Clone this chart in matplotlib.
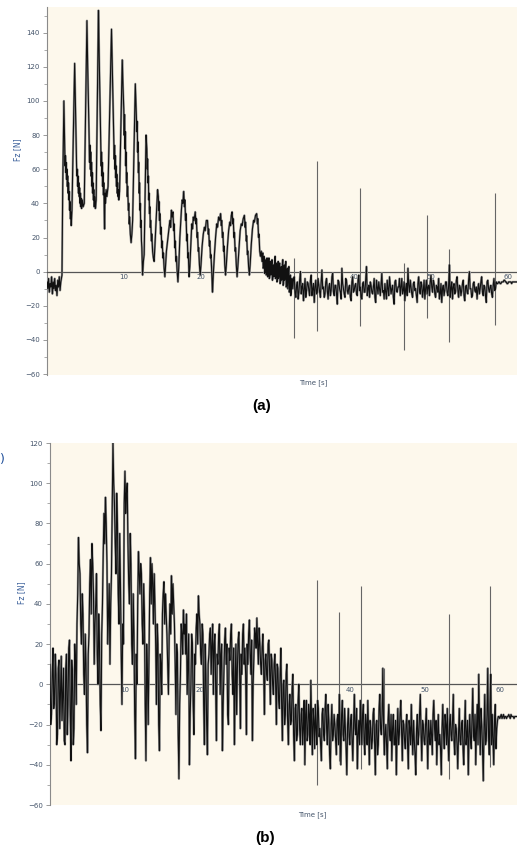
import numpy as np
import matplotlib
matplotlib.use('Agg')
from matplotlib import pyplot as plt
from matplotlib.ticker import MultipleLocator

# ---- panel (a): hand-read points of the Fz trace, (time [s], force [N])
a_trace = [
    # standing still before the first push
    (0.0, -6), (0.1, -10), (0.2, -4), (0.3, -12), (0.4, -7), (0.5, -9),
    (0.6, -3), (0.7, -13), (0.8, -6), (0.9, -10), (1.0, -4), (1.1, -11),
    (1.2, -8), (1.3, -14), (1.4, -5), (1.5, -9), (1.6, -3), (1.7, -11),
    (1.8, -6), (1.95, -2),
    # big pushes
    (2.05, 50), (2.2, 100), (2.3, 75), (2.35, 62), (2.4, 68), (2.45, 58),
    (2.5, 64), (2.55, 54), (2.6, 60), (2.65, 50), (2.7, 56), (2.75, 46),
    (2.8, 52), (2.85, 42), (2.9, 47), (2.95, 36), (3.0, 41), (3.05, 31),
    (3.1, 35), (3.15, 27), (3.25, 36),
    (3.6, 122), (3.7, 100), (3.8, 75), (3.85, 62), (3.9, 56), (3.95, 60),
    (4.0, 50), (4.05, 56), (4.1, 46), (4.15, 52), (4.2, 44), (4.25, 49),
    (4.3, 40), (4.35, 46), (4.4, 38), (4.45, 43), (4.5, 37), (4.6, 42),
    (4.7, 38), (4.85, 40),
    (5.2, 147), (5.3, 120), (5.45, 85), (5.5, 72), (5.55, 64), (5.6, 74),
    (5.65, 60), (5.7, 70), (5.75, 56), (5.8, 64), (5.85, 50), (5.9, 58),
    (5.95, 46), (6.0, 52), (6.05, 42), (6.1, 48), (6.15, 38), (6.2, 44),
    (6.3, 37), (6.4, 42),
    (6.7, 153), (6.8, 125), (6.95, 90), (7.0, 75), (7.05, 62), (7.1, 70),
    (7.15, 56), (7.2, 64), (7.25, 50), (7.3, 58), (7.35, 45), (7.4, 52),
    (7.45, 40), (7.5, 25), (7.55, 46), (7.6, 40), (7.7, 48), (7.8, 44),
    (7.95, 50),
    (8.4, 142), (8.5, 120), (8.65, 90), (8.7, 75), (8.75, 66), (8.8, 74),
    (8.85, 60), (8.9, 68), (8.95, 55), (9.0, 62), (9.05, 50), (9.1, 57),
    (9.15, 46), (9.2, 52), (9.25, 44), (9.3, 48), (9.35, 42), (9.45, 47),
    (9.8, 124), (9.9, 108), (10.0, 95), (10.05, 80), (10.1, 92), (10.15, 72),
    (10.2, 82), (10.25, 62), (10.3, 70), (10.35, 52), (10.4, 58), (10.45, 44),
    (10.5, 50), (10.6, 36), (10.65, 40), (10.7, 28), (10.75, 32), (10.85, 22),
    (10.95, 17), (11.05, 22), (11.15, 30),
    (11.5, 110), (11.6, 95), (11.7, 82), (11.75, 88), (11.8, 70), (11.85, 76),
    (11.9, 58), (11.95, 64), (12.0, 46), (12.05, 52), (12.1, 36), (12.15, 40),
    (12.2, 26), (12.25, 30), (12.3, 18), (12.35, 14), (12.45, -2), (12.55, 6),
    (12.65, 10),
    (12.9, 80), (13.0, 72), (13.05, 60), (13.1, 66), (13.15, 52), (13.2, 56),
    (13.25, 42), (13.3, 46), (13.35, 34), (13.4, 38), (13.45, 26), (13.5, 30),
    (13.6, 18), (13.65, 22), (13.75, 12), (13.85, 8), (13.95, 6), (14.05, 15),
    # smaller pushes
    (14.4, 48), (14.5, 44), (14.55, 36), (14.6, 41), (14.65, 30), (14.7, 34),
    (14.8, 22), (14.85, 26), (14.95, 14), (15.0, 18), (15.1, 8), (15.15, 11),
    (15.25, 2), (15.35, -3), (15.45, 4), (15.55, 12),
    (16.0, 30), (16.1, 26), (16.2, 36), (16.3, 32), (16.4, 35), (16.5, 24),
    (16.55, 28), (16.65, 14), (16.7, 18), (16.8, 6), (16.85, 9), (16.95, 0),
    (17.05, -6), (17.15, 2), (17.3, 20), (17.4, 28), (17.5, 36), (17.6, 42),
    (17.7, 40), (17.8, 47), (17.9, 38), (17.95, 42), (18.05, 30), (18.1, 34),
    (18.2, 18), (18.25, 22), (18.35, 8), (18.4, 11), (18.5, -3), (18.6, 3),
    (18.75, 18), (18.85, 28), (18.95, 25), (19.05, 32), (19.15, 30), (19.3, 35),
    (19.4, 28), (19.45, 31), (19.55, 20), (19.6, 23), (19.7, 12), (19.75, 14),
    (19.85, 4), (19.95, -2), (20.05, 4), (20.2, 15), (20.35, 22), (20.5, 26),
    (20.6, 24), (20.75, 30), (20.9, 30), (21.0, 22), (21.05, 25), (21.15, 15),
    (21.2, 18), (21.3, 8), (21.35, 10), (21.45, 0), (21.55, -12), (21.65, -2),
    (21.8, 10), (21.95, 20), (22.1, 28), (22.2, 26), (22.35, 32), (22.5, 30),
    (22.6, 34), (22.7, 27), (22.75, 30), (22.85, 20), (22.9, 23), (23.0, 12),
    (23.05, 15), (23.15, 4), (23.25, -2), (23.35, 4), (23.5, 15), (23.65, 24),
    (23.8, 29), (23.9, 27), (24.0, 33), (24.1, 35), (24.2, 28), (24.25, 31),
    (24.35, 20), (24.4, 23), (24.5, 12), (24.55, 14), (24.65, 4), (24.75, -3),
    (24.85, 3), (25.0, 14), (25.15, 24), (25.3, 28), (25.4, 27), (25.55, 31),
    (25.7, 33), (25.8, 26), (25.85, 29), (25.95, 18), (26.0, 21), (26.1, 10),
    (26.15, 12), (26.25, 3), (26.35, -2), (26.45, 4), (26.6, 16), (26.75, 25),
    (26.9, 30), (27.0, 29), (27.15, 33), (27.3, 34), (27.4, 28), (27.45, 31),
    (27.55, 20), (27.6, 22), (27.7, 12), (27.8, 9), (27.9, 12), (28.0, 6),
    # settling down
    (28.1, 11), (28.15, 2), (28.2, 3), (28.25, 9), (28.3, 8), (28.35, -1),
    (28.4, 1), (28.45, 6), (28.5, 7), (28.55, -2), (28.6, -1), (28.65, 8),
    (28.7, 6), (28.75, -3), (28.8, 0), (28.85, 5), (28.9, 8), (28.95, -4),
    (29.0, -3), (29.05, 6), (29.1, 5), (29.15, -2), (29.2, -1), (29.25, 4),
    (29.3, 7), (29.35, -5), (29.4, -4), (29.45, 3), (29.5, 4), (29.55, -3),
    (29.6, 0), (29.65, 6), (29.7, 9), (29.75, -4), (29.8, -3), (29.85, 5),
    (29.9, 4), (29.95, -6), (30.0, -5), (30.05, 3), (30.1, 6), (30.15, -4),
    (30.2, -2), (30.25, 4), (30.3, 5), (30.35, -7), (30.4, -6), (30.45, 2),
    (30.5, 3), (30.55, -5), (30.6, -4), (30.65, 4), (30.7, 7), (30.75, -8),
    (30.8, -7), (30.85, 1), (30.9, 4), (30.95, -5), (31.0, -2), (31.05, 3),
    (31.1, 6), (31.15, -9), (31.2, -8), (31.25, 0), (31.3, 2), (31.35, -10),
    (31.4, -5), (31.45, 1), (31.5, 3), (31.55, -12), (31.6, -10), (31.65, -3),
    (31.7, -2), (31.75, -14), (31.8, -12), (31.85, -5), (31.9, -4),
]

# ---- panel (a): noisy part, readings every 0.2 s from 32.0 s
a_noise_start = 32.0
a_noise_step = 0.2
a_noise = [-10, -3, -15, -6, -12, 0, -9, -17, -4, -11,
           -7, -14, -2, -10, -18, -5, -12, -8, -15, 1,
           -9, -13, -4, -16, -7, -11, -1, -14, -8, -19,
           -6, -12, 2, -10, -15, -5, -13, -8, -17, -3,
           -11, -7, -14, -2, -9, -16, -6, -12, 3, -10,
           -15, -8, -13, -4, -18, -9, -6, -14, -1, -11,
           -7, -16, -10, -3, -13, -8, -19, -5, -12, -9,
           -14, -4, -11, -17, -7, 2, -12, -9, -15, -6,
           -10, -18, -3, -13, -8, -11, -16, -5, -9, -14,
           -2, -12, -7, -15, -9, -4, -13, -18, -8, -11,
           -6, -14, 4, -10, -16, -7, -12, -3, -15, -9,
           -11, -5, -17, -8, -13, 0, -10, -14, -6, -12,
           -16, -7, -10, -3, -14, -9, -18, -5, -12, -8,
           -15, -4, -10, -7, -6, -7, -6, -6, -5, -6,
           -7, -6, -6, -6, -6, -6, -6, -6]
# in-between readings, every 0.2 s from 32.1 s
a_noise_mid = [-4, -12, -8, -16, -5, -13, -7, -10, -15, -6,
               -11, -5, -14, -7, -9, -13, -4, -12, -6, -10,
               -15, -6, -11, -9, -14, -3, -12, -8, -13, -5,
               -10, -16, -7, -13, -4, -11, -9, -15, -6, -12,
               -8, -13, -5, -11, -15, -7, -12, -4, -14, -8,
               -6, -12, -9, -15, -5, -13, -10, -7, -12, -16,
               -12, -5, -14, -8, -10, -15, -6, -11, -9, -4,
               -9, -13, -6, -10, -14, -8, -5, -13, -7, -11,
               -14, -7, -11, -6, -15, -5, -10, -13, -8, -6,
               -9, -5, -13, -8, -12, -16, -7, -10, -14, -6,
               -12, -8, -15, -6, -9, -13, -5, -11, -8, -14,
               -7, -14, -9, -12, -5, -10, -15, -7, -11, -9,
               -10, -13, -6, -12, -8, -14, -6, -10, -9, -13,
               -8, -11, -6, -7, -6, -7, -6, -5, -6, -7,
               -6, -6, -7, -6, -6, -6, -6]

# ---- panel (a): isolated spikes
a_spike_t = [32.1, 35.2, 40.8, 46.5, 49.5, 52.3, 58.3]
a_spike_lo = [-39, -35, -32, -46, -27, -41, -31]
a_spike_hi = [8, 65, 49, 5, 33, 13, 46]

# ---- panel (b): readings every 0.2 s from 0 s
b_step = 0.2
b_force = [10, -15, 18, -8, 5, -25, 12, -5, -18, 8,
           -30, 15, -10, 22, -38, 5, -22, 12, 30, 73,
           55, 20, 35, -5, 10, -34, 25, 62, 70, 45,
           30, 55, 0, 20, -23, 40, 85, 93, 60, 35,
           10, 55, 120, 90, 55, 80, 30, 50, -10, 20,
           106, 95, 70, 40, 60, 10, 25, -37, 0, 66,
           45, 55, 20, 35, -38, 5, 15, 63, 60, 30,
           40, -10, 20, -33, 10, 35, 51, 45, 25, -5,
           40, 54, 50, 30, -15, 15, -47, 5, 25, 37,
           30, 35, 10, -40, 0, 20, -25, 10, 35, 44,
           30, 10, 25, -30, 5, -35, 15, 28, 20, -5,
           25, -28, 10, 30, 15, -33, 5, 28, 20, -20,
           12, 30, -5, -30, 20, 8, 26, -22, 5, 30,
           18, -25, 10, 32, 5, -28, 15, 25, 33, 10,
           20, 5, 25, -15, 15, 2, 22, -10, 12, -5,
           15, -20, 8, -12, 18, -28, 2, -15, 10, -30,
           -5, -18, 5, -38, -10, -25, 0, -30, -12, -22,
           -40, -8, -25, -15, 2, -35, -18, -10, -30, -12,
           -22, -38, -12, -28, -5, -30, -18, -42, -10, -25,
           -20, -35, -15, -5, -40, -8, -28, -22, -45, -12,
           -30, -15, -38, -5, -25, -42, -18, -8, -30, -10,
           -35, -20, -8, -40, -22, -28, -12, -45, -18, -30,
           -5, -25, 8, -35, -20, -42, -10, -28, -38, -15,
           -30, -45, -12, -25, -8, -38, -20, -32, -15, -42,
           -22, -10, -35, -28, -45, -15, -25, -5, -38, -20,
           -30, -12, -42, -25, -18, -35, -8, -28, -40, -15,
           -25, -45, -10, -32, -20, -12, -38, -15, -28, -5,
           -35, -22, -42, -12, -30, -18, -40, -8, -25, -45,
           -15, -32, -2, -28, -40, -10, 5, -35, -20, -48,
           -5, -28, 8, -35, 5, -15, -40, -10, -22, -16,
           -17, -15, -16, -17, -16, -16, -15, -17, -16, -16,
           -16, -16, -16]
# in-between readings, every 0.2 s from 0.1 s
b_force_mid = [-20, 5, -12, 15, -30, 8, -22, 14, -5, -28,
               8, -25, 18, -15, 12, -30, 20, -10, 45, 60,
               30, 45, 5, 25, -20, 15, 50, 35, 60, 10,
               40, 15, 35, -10, 25, 65, 70, 80, 20, 50,
               40, 90, 100, 70, 95, 45, 75, 15, 30, 90,
               85, 100, 50, 75, 20, 45, -15, 15, 40, 55,
               60, 30, 50, -10, 20, -20, 45, 40, 50, 55,
               20, 30, -20, 15, -5, 45, 30, 35, 10, 25,
               25, 35, 40, 10, 20, -25, -10, 30, 15, 25,
               15, -5, 25, -15, 25, -10, 15, 28, 20, 35,
               15, 30, -10, 20, -20, 10, 25, 5, 30, 20,
               0, 15, 25, -5, 20, -10, 22, 10, -15, 18,
               25, 5, 18, 0, -15, 22, 5, 15, 25, 10,
               5, 20, 25, 15, 22, 0, 28, 18, 20, 28,
               10, 18, 8, 12, 5, 20, 5, 15, 0, 10,
               0, 10, -8, 5, -10, 0, -20, 5, -18, -10,
               -20, -2, -25, -12, -28, -8, -22, -15, -30, -8,
               -15, -28, -10, -30, -20, -12, -32, -22, -8, -26,
               -30, -15, -25, -12, -22, -10, -35, -20, -28, -15,
               -28, -18, -30, -22, -15, -25, -12, -32, -20, -26,
               -18, -28, -20, -22, -12, -25, -30, -20, -15, -28,
               -15, -30, -25, -18, -32, -15, -28, -20, -35, -12,
               -22, -15, -20, -25, -30, -18, -25, -15, -22, -30,
               -18, -25, -30, -15, -22, -18, -28, -20, -30, -18,
               -30, -25, -18, -35, -22, -30, -15, -25, -18, -28,
               -20, -28, -18, -30, -25, -15, -22, -18, -25, -30,
               -32, -22, -25, -15, -30, -28, -20, -25, -18, -28,
               -20, -30, -25, -28, -20, -32, -22, -30, -18, -25,
               -28, -18, -25, -15, -22, -30, -20, -12, -32, -22,
               -30, -15, -25, -10, -30, -28, -18, -32, -18, -16,
               -16, -17, -15, -16, -17, -16, -16, -15, -16, -17,
               -16, -16]

b_spike_t = [35.6, 38.5, 41.5, 44.5, 53.2, 58.7]
b_spike_lo = [-50, -38, -42, -35, -47, -41]
b_spike_hi = [52, 36, 49, 8, 35, 49]

x_ticks = [10, 20, 30, 40, 50, 60]

BG = '#fdf8ec'
LBL = '#44546a'
W, H = 517, 851


def style(ax, xmax, ylo, yhi):
    ax.set_facecolor(BG)
    ax.set_xlim(0, xmax)
    ax.set_ylim(ylo, yhi)
    for s in ['top', 'right']:
        ax.spines[s].set_visible(False)
    ax.spines['bottom'].set_position(('data', 0))
    ax.spines['bottom'].set_color('#555555')
    ax.spines['bottom'].set_linewidth(0.9)
    ax.spines['left'].set_color('#8a8a8a')
    ax.spines['left'].set_linewidth(0.8)
    ax.yaxis.set_major_locator(MultipleLocator(20))
    ax.yaxis.set_minor_locator(MultipleLocator(10))
    ax.tick_params(axis='y', which='major', direction='out', length=3,
                   width=0.6, colors='#8a8a8a', labelcolor=LBL,
                   labelsize=5, pad=2)
    ax.tick_params(axis='y', which='minor', direction='out', length=2,
                   width=0.5, colors='#8a8a8a')
    ax.set_xticks(x_ticks)
    ax.tick_params(axis='x', length=0, labelsize=5, labelcolor=LBL, pad=2)


def merge(t1, v1, t2, v2):
    t = np.r_[t1, t2]
    v = np.r_[v1, v2]
    order = np.argsort(t, kind='stable')
    return t[order], v[order]


def trace(ax, t, v):
    # grey halo under a dark core, like the scanned recorder trace
    ax.plot(t, v, color='#9a9a9a', lw=1.6, zorder=3)
    ax.plot(t, v, color='#111111', lw=0.8, zorder=3.1)


fig = plt.figure(figsize=(W / 100, H / 100), dpi=100)

# (a)
ax1 = fig.add_axes([47 / W, 1 - 375 / H, 470 / W, 368 / H])
style(ax1, 61.2, -60.5, 155)
a_time = [p[0] for p in a_trace]
a_force = [p[1] for p in a_trace]
tn, vn = merge(a_noise_start + a_noise_step * np.arange(len(a_noise)), a_noise,
               a_noise_start + 0.1 + a_noise_step * np.arange(len(a_noise_mid)),
               a_noise_mid)
trace(ax1, np.r_[a_time, tn], np.r_[a_force, vn])
ax1.vlines(a_spike_t, a_spike_lo, a_spike_hi, color='#666666', lw=0.8, zorder=3)

# (b)
ax2 = fig.add_axes([50 / W, 1 - 805 / H, 467 / W, 362 / H])
style(ax2, 62.3, -60, 120)
tb, vb = merge(b_step * np.arange(len(b_force)), b_force,
               0.1 + b_step * np.arange(len(b_force_mid)), b_force_mid)
trace(ax2, tb, vb)
ax2.vlines(b_spike_t, b_spike_lo, b_spike_hi, color='#666666', lw=0.8, zorder=3)

# labels
for x, y in [(18, 150), (22, 593)]:
    fig.text(x / W, 1 - y / H, 'Fz [N]', rotation=90, fontsize=5.5,
             color='#3a5f9a', ha='center', va='center')
for x, y in [(313, 383), (312, 815)]:
    fig.text(x / W, 1 - y / H, 'Time [s]', fontsize=5, color=LBL,
             ha='center', va='center')
fig.text(262 / W, 1 - 406 / H, '(a)', fontsize=11, fontweight='bold',
         family='Liberation Sans', ha='center', va='center')
fig.text(265 / W, 1 - 838 / H, '(b)', fontsize=11, fontweight='bold',
         family='Liberation Sans', ha='center', va='center')
fig.text(2 / W, 1 - 460 / H, ')', fontsize=9, color='#1f4e9a',
         ha='center', va='center')

fig.savefig('out.png', dpi=100, facecolor='white')
